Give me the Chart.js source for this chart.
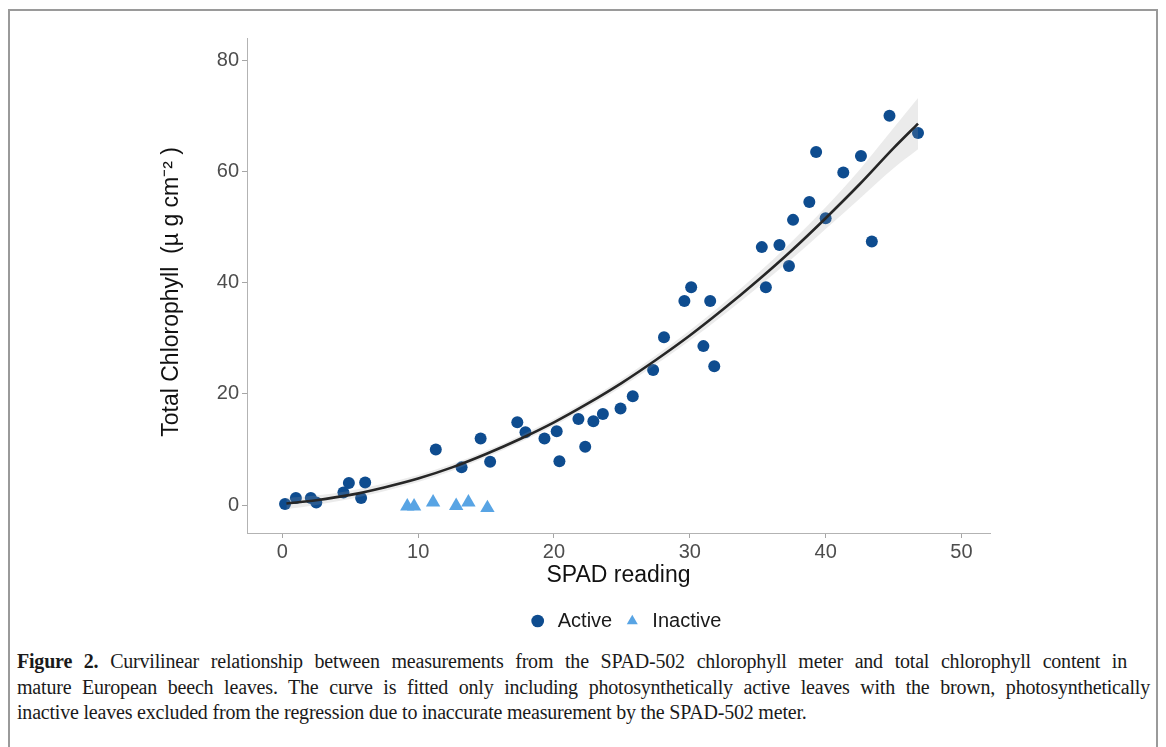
<!DOCTYPE html>
<html>
<head>
<meta charset="utf-8">
<script src="https://cdn.jsdelivr.net/npm/chart.js@4.4.1/dist/chart.umd.min.js"></script>
<style>
  html, body { margin: 0; padding: 0; background: #ffffff; }
  body { width: 1166px; height: 747px; position: relative; overflow: hidden; }
  #frame { position: absolute; left: 8px; top: 9px; width: 1150px; height: 760px; border: 2px solid #9a9a9a; box-sizing: border-box; }
  #wrap { position: absolute; left: 0; top: 0; width: 1166px; height: 645px; }
  #caption { position: absolute; left: 17px; top: 649px; font-family: 'Liberation Serif', 'Times New Roman', serif; font-size: 20px; letter-spacing: -0.2px; line-height: 25.5px; color: #1a1a1a; }
  #caption .l { white-space: nowrap; }
  #caption .j { text-align: justify; text-align-last: justify; white-space: normal; }
  #caption b { font-weight: bold; }
</style>
</head>
<body>
<div id="frame"></div>
<div id="wrap"><canvas id="c" width="1166" height="645"></canvas></div>
<div id="caption">
  <div class="l j" style="width:1110px"><b>Figure 2.</b> Curvilinear relationship between measurements from the SPAD-502 chlorophyll meter and total chlorophyll content in</div>
  <div class="l j" style="width:1133px">mature European beech leaves. The curve is fitted only including photosynthetically active leaves with the brown, photosynthetically</div>
  <div class="l">inactive leaves excluded from the regression due to inaccurate measurement by the SPAD-502 meter.</div>
</div>
<script>
// ---- data ----
const activeX = [0.2,1.0,2.1,2.5,4.5,4.9,5.8,6.1,11.3,13.2,14.6,15.3,17.3,17.9,19.3,20.2,20.4,21.8,22.3,22.9,23.6,24.9,25.8,27.3,28.1,29.6,30.1,31.0,31.5,31.8,35.3,35.6,36.6,37.3,37.6,38.8,39.3,40.0,41.3,42.6,43.4,44.7,46.8];
const activeY = [0.2,1.3,1.3,0.5,2.3,4.0,1.3,4.1,10.0,6.8,12.0,7.8,14.9,13.1,12.0,13.3,7.9,15.5,10.5,15.1,16.4,17.4,19.6,24.3,30.2,36.7,39.2,28.6,36.7,25.0,46.4,39.2,46.8,43.0,51.3,54.5,63.5,51.6,59.8,62.8,47.4,70.0,66.9];
const inactiveX = [9.2,9.7,11.1,12.8,13.7,15.1];
const inactiveY = [-0.2,-0.2,0.5,-0.1,0.5,-0.5];
const fitX = [0.3,2.5,5,7.5,10,12.5,15,17.5,20,22.5,25,27.5,30,32.5,35,37.5,40,42.5,45,46.8];
const fitY = [0.3,0.9,1.85,3.2,4.8,6.8,9.2,11.9,14.9,18.3,22.0,26.1,30.5,35.3,40.4,45.8,51.6,57.7,64.2,68.6];
const bandUpper = [1.3,1.75,2.6,3.9,5.45,7.4,9.8,12.5,15.5,18.95,22.7,26.9,31.4,36.35,41.65,47.35,53.55,60.3,67.8,73.2];
const bandLower = [-0.7,0.05,1.1,2.5,4.15,6.2,8.6,11.3,14.3,17.65,21.3,25.3,29.6,34.25,39.15,44.25,49.65,55.1,60.6,64.0];
const xTicks = [0,10,20,30,40,50];
const yTicks = [0,20,40,60,80];
const seriesNames = ['Active','Inactive'];

const pts = (xs, ys) => xs.map((x, i) => ({x: x, y: ys[i]}));
const ACTIVE = '#0e4c8f';
const INACTIVE = '#58a4e4';
const SANS = "'Liberation Sans', Arial, sans-serif";

new Chart(document.getElementById('c'), {
  type: 'scatter',
  data: {
    datasets: [
      { label: seriesNames[0], data: pts(activeX, activeY), pointStyle: 'circle', pointRadius: 6, pointHoverRadius: 6,
        backgroundColor: ACTIVE, borderColor: ACTIVE, borderWidth: 0, order: 3 },
      { label: seriesNames[1], data: pts(inactiveX, inactiveY), pointStyle: 'triangle', pointRadius: 8.3, pointHoverRadius: 8.3,
        backgroundColor: INACTIVE, borderColor: INACTIVE, borderWidth: 0, order: 3 },
      { label: 'upper', type: 'line', data: pts(fitX, bandUpper), borderWidth: 0, borderColor: 'rgba(0,0,0,0)', pointRadius: 0,
        fill: '+1', backgroundColor: 'rgba(153,153,153,0.2)', order: 2, cubicInterpolationMode: 'monotone' },
      { label: 'lower', type: 'line', data: pts(fitX, bandLower), borderWidth: 0, borderColor: 'rgba(0,0,0,0)', pointRadius: 0,
        fill: false, order: 2, cubicInterpolationMode: 'monotone' },
      { label: 'fit', type: 'line', data: pts(fitX, fitY), borderColor: '#262626', borderWidth: 2.6, pointRadius: 0,
        fill: false, order: 1, cubicInterpolationMode: 'monotone' }
    ]
  },
  options: {
    responsive: false,
    animation: false,
    devicePixelRatio: 1,
    layout: { padding: { left: 150, top: 38, right: 56, bottom: 4 } },
    plugins: {
      tooltip: { enabled: false },
      legend: {
        position: 'bottom',
        labels: {
          usePointStyle: true,
          boxWidth: 9, boxHeight: 9,
          padding: 10,
          color: '#1a1a1a',
          font: { family: SANS, size: 20 },
          filter: (item) => seriesNames.includes(item.text.trim()),
          generateLabels: (chart) => {
            const base = Chart.defaults.plugins.legend.labels.generateLabels(chart);
            return base.map(l => Object.assign(l, { text: ' ' + l.text + ' ' }));
          }
        }
      }
    },
    scales: {
      x: {
        type: 'linear', min: -2.6, max: 52.1,
        afterBuildTicks: (s) => { s.ticks = xTicks.map(v => ({value: v})); },
        afterFit: (s) => { s.height = 68; },
        grid: { drawOnChartArea: false, drawTicks: true, tickLength: 5, color: '#a6a6a6', lineWidth: 1 },
        border: { display: true, color: '#b3b3b3', width: 1 },
        ticks: { color: '#4d4d4d', font: { family: SANS, size: 20 }, padding: 2, maxRotation: 0 },
        title: { display: true, text: 'SPAD reading', color: '#111', font: { family: SANS, size: 23 }, padding: { top: 0, bottom: 12 } }
      },
      y: {
        type: 'linear', min: -5, max: 84,
        afterBuildTicks: (s) => { s.ticks = yTicks.map(v => ({value: v})); },
        afterFit: (s) => { s.width = 97; },
        grid: { drawOnChartArea: false, drawTicks: true, tickLength: 5, color: '#a6a6a6', lineWidth: 1 },
        border: { display: true, color: '#b3b3b3', width: 1 },
        ticks: { color: '#4d4d4d', font: { family: SANS, size: 20 }, padding: 3 },
        title: { display: true, text: 'Total Chlorophyll  (\u00b5 g cm\u207b\u00b2 )  ', color: '#111', font: { family: SANS, size: 23 }, padding: { top: 8, bottom: 0 } }
      },
      spacer: {
        type: 'linear', position: 'right', display: true,
        afterFit: (s) => { s.width = 120; },
        grid: { display: false }, border: { display: false }, ticks: { display: false }
      }
    }
  }
});
</script>
</body>
</html>
